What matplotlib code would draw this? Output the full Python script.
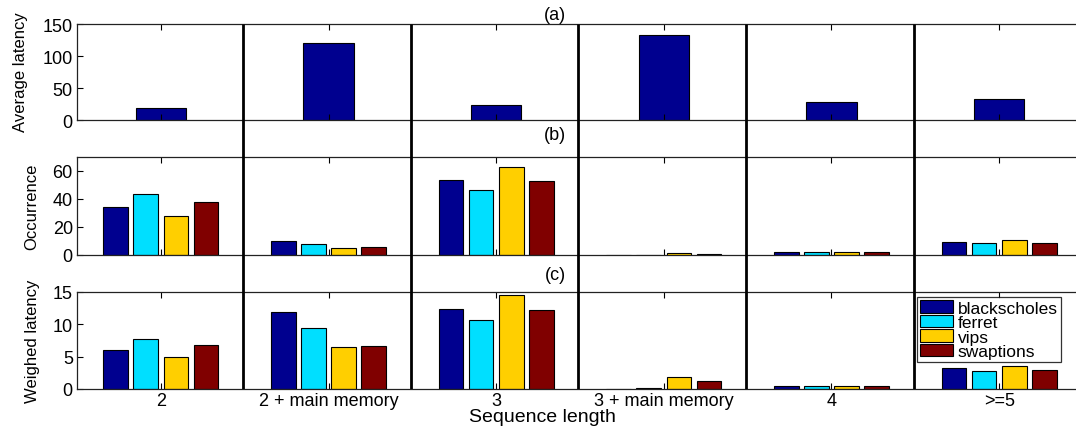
import matplotlib
matplotlib.use("Agg")
import matplotlib.pyplot as plt
import numpy as np

plt.rcParams['font.family'] = ['Liberation Sans', 'DejaVu Sans']

categories = ["2", "2 + main memory", "3", "3 + main memory", "4", ">=5"]
series_names = ["blackscholes", "ferret", "vips", "swaptions"]
colors = ["#00008F", "#00DFFF", "#FFCF00", "#800000"]

avg_latency = [18, 120, 23, 133, 28, 33]

occ_blackscholes = [34, 9.8, 53.5, 0.2, 2.2, 9.4]
occ_ferret = [43.4, 8.0, 46.3, 0.3, 2.0, 8.4]
occ_vips = [27.9, 5.3, 62.6, 1.5, 2.1, 10.8]
occ_swaptions = [38, 5.5, 52.8, 1.0, 2.0, 8.7]

wl_blackscholes = [6.1, 11.9, 12.3, 0.05, 0.5, 3.2]
wl_ferret = [7.8, 9.5, 10.6, 0.2, 0.45, 2.75]
wl_vips = [5.0, 6.56, 14.5, 1.9, 0.5, 3.5]
wl_swaptions = [6.8, 6.7, 12.2, 1.3, 0.5, 2.9]

W, H = 1076, 427
fig = plt.figure(figsize=(W / 100, H / 100), dpi=100)

left_px, right_px = 77, 1083
def pos(top_px, bot_px):
    return [left_px / W, 1 - bot_px / H, (right_px - left_px) / W, (bot_px - top_px) / H]

ax_a = fig.add_axes(pos(25, 121))
ax_b = fig.add_axes(pos(158, 256))
ax_c = fig.add_axes(pos(293, 390))

x = np.arange(1, len(categories) + 1)
offsets = [-0.27, -0.09, 0.09, 0.27]
bw = 0.147

ax_a.bar(x, avg_latency, width=0.30, color=colors[0], edgecolor='black', linewidth=0.8)

occ = [occ_blackscholes, occ_ferret, occ_vips, occ_swaptions]
wl = [wl_blackscholes, wl_ferret, wl_vips, wl_swaptions]
handles = []
for i in range(4):
    ax_b.bar(x + offsets[i], occ[i], width=bw, color=colors[i], edgecolor='black', linewidth=0.8)
    h = ax_c.bar(x + offsets[i], wl[i], width=bw, color=colors[i], edgecolor='black', linewidth=0.8,
                 label=series_names[i])
    handles.append(h)

ylims = [(0, 150), (0, 70), (0, 15)]
yticks = [[0, 50, 100, 150], [0, 20, 40, 60], [0, 5, 10, 15]]
ylabels = ["Average latency", "Occurrence", "Weighed latency"]
for ax, yl, yt in zip([ax_a, ax_b, ax_c], ylims, yticks):
    ax.set_xlim(0.5, 6.5)
    ax.set_ylim(*yl)
    ax.set_yticks(yt)
    ax.set_xticks(x)
    ax.tick_params(direction='in', top=True, right=True, length=4, width=0.8,
                   labelsize=13, pad=3)
    for s in ax.spines.values():
        s.set_linewidth(0.9)
        s.set_color('#222222')
ax_a.set_xticklabels([])
ax_b.set_xticklabels([])
ax_c.set_xticklabels(categories, fontsize=13)
ax_c.tick_params(axis='x', pad=2)

# y labels
fig.text(21 / W, 1 - 72 / H, ylabels[0], rotation=90, ha='center', va='center', fontsize=12)
fig.text(32 / W, 1 - 207 / H, ylabels[1], rotation=90, ha='center', va='center', fontsize=12)
fig.text(33 / W, 1 - 341 / H, ylabels[2], rotation=90, ha='center', va='center', fontsize=12)

# panel titles
fig.text(555 / W, 1 - 15 / H, "(a)", ha='center', va='center', fontsize=13)
fig.text(555 / W, 1 - 136 / H, "(b)", ha='center', va='center', fontsize=13)
fig.text(555 / W, 1 - 275 / H, "(c)", ha='center', va='center', fontsize=13)

fig.text(542 / W, 1 - 418 / H, "Sequence length", ha='center', va='center', fontsize=14)

# separator lines spanning all panels
ov = fig.add_axes(pos(25, 390))
ov.set_xlim(0.5, 6.5)
ov.set_ylim(0, 1)
ov.axis('off')
ov.patch.set_alpha(0)
ov.vlines(x[:-1] + 0.49, 0, 1, colors='black', linewidth=2)

leg = ax_c.legend(handles=handles, loc='upper left',
                  bbox_to_anchor=(917 / W, 1 - 298 / H), bbox_transform=fig.transFigure,
                  fontsize=12.5, frameon=True, fancybox=False, handlelength=1.9,
                  handleheight=0.7, labelspacing=-0.04, borderpad=0.2, handletextpad=0.25,
                  borderaxespad=0)
leg.get_frame().set_edgecolor('black')
leg.get_frame().set_linewidth(0.9)

fig.savefig("out.png", dpi=100)
